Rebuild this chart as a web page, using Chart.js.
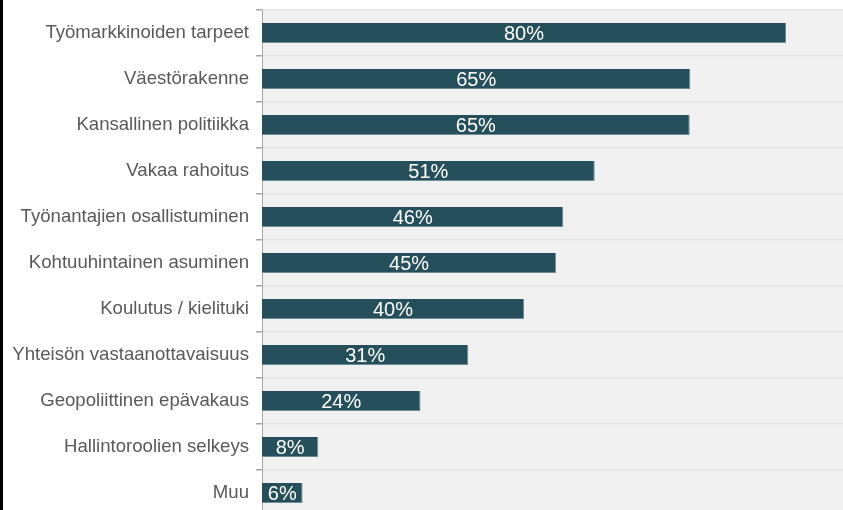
<!DOCTYPE html>
<html>
<head>
<meta charset="utf-8">
<script src="https://cdn.jsdelivr.net/npm/chart.js@4.4.1/dist/chart.umd.min.js"></script>
<style>
	html, body { margin: 0; padding: 0; background: #ffffff; overflow: hidden; }
	#wrap { position: absolute; left: 0; top: 0; width: 843px; height: 516px; }
	#edge { position: absolute; left: 0; top: 0; width: 3px; height: 510px; background: #000000; }
</style>
</head>
<body>
<div id="wrap"><canvas id="chart"></canvas></div>
<div id="edge"></div>
<script>
const categories = [
	"Työmarkkinoiden tarpeet",
	"Väestörakenne",
	"Kansallinen politiikka",
	"Vakaa rahoitus",
	"Työnantajien osallistuminen",
	"Kohtuuhintainen asuminen",
	"Koulutus / kielituki",
	"Yhteisön vastaanottavaisuus",
	"Geopoliittinen epävakaus",
	"Hallintoroolien selkeys",
	"Muu"
]
//arvioitu palkkien pituuksista
const values = [80, 65.4, 65.3, 50.8, 46, 44.9, 40, 31.5, 24.2, 8.6, 6.2]
const valueLabels = ["80%", "65%", "65%", "51%", "46%", "45%", "40%", "31%", "24%", "8%", "6%"]

//taustaväri piirtoalueelle
const plotBg = {
	id: "plotBg",
	beforeDraw(chart){
		const a = chart.chartArea
		const ctx = chart.ctx
		ctx.save()
		ctx.fillStyle = "#f1f1f1"
		ctx.fillRect(a.left, a.top, a.right - a.left, a.bottom - a.top)
		ctx.restore()
	}
}

//prosentit palkkien keskelle
const barLabels = {
	id: "barLabels",
	afterDatasetsDraw(chart){
		const ctx = chart.ctx
		ctx.save()
		ctx.fillStyle = "#ffffff"
		ctx.font = "20px 'Liberation Sans', Arial, sans-serif"
		ctx.textAlign = "center"
		ctx.textBaseline = "middle"
		chart.getDatasetMeta(0).data.forEach((bar, i) => {
			ctx.fillText(valueLabels[i], (bar.x + bar.base) / 2, bar.y + 1)
		})
		ctx.restore()
	}
}

new Chart("chart", {
	type: "bar",
	data: {
		labels: categories,
		datasets: [{
			data: values,
			backgroundColor: "#244f5b",
			borderColor: "#6f8c94",
			borderWidth: { top: 0, left: 0, right: 1, bottom: 1 },
			borderSkipped: false,
			categoryPercentage: 1,
			barPercentage: 0.43
		}]
	},
	options: {
		indexAxis: "y",
		responsive: true,
		maintainAspectRatio: false,
		animation: false,
		layout: { padding: { top: 10, left: 0, right: 0, bottom: 0 } },
		plugins: {
			legend: { display: false },
			tooltip: { enabled: false }
		},
		scales: {
			x: {
				display: false,
				min: 0,
				max: 88.7
			},
			y: {
				afterFit(scale){
					scale.width = 262
					scale.paddingTop = 0
					scale.paddingBottom = 0
				},
				grid: {
					offset: true,
					color: "#e4e4e4",
					lineWidth: 1.5,
					tickColor: "#a6a6a6",
					tickLength: 6
				},
				border: { color: "#a6a6a6", width: 1 },
				ticks: {
					color: "#595959",
					padding: 7,
					font: { family: "'Liberation Sans', Arial, sans-serif", size: 18.6 }
				}
			}
		}
	},
	plugins: [plotBg, barLabels]
})
</script>
</body>
</html>
